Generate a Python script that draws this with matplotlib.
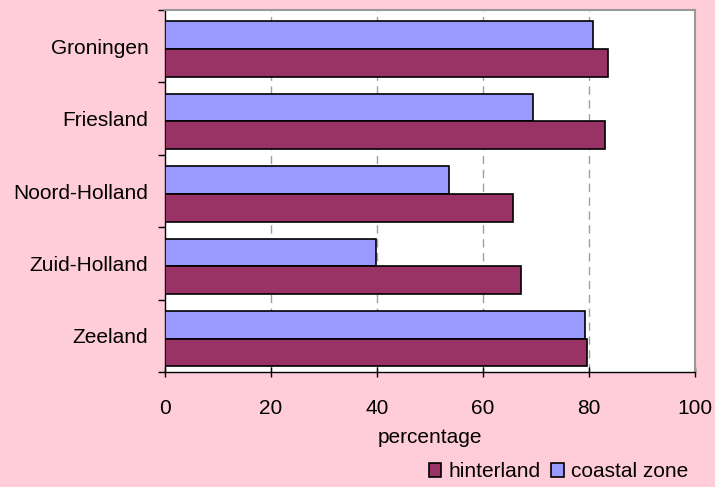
import matplotlib
matplotlib.use("Agg")
import matplotlib.pyplot as plt
from matplotlib.patches import Patch
import numpy as np

provinces = ["Groningen", "Friesland", "Noord-Holland", "Zuid-Holland", "Zeeland"]
coastal_zone = [80.7, 69.4, 53.5, 39.8, 79.2]
hinterland = [83.5, 83.0, 65.6, 67.1, 79.6]
x_ticks = [0, 20, 40, 60, 80, 100]

bg = "#FFCCD9"
col_hint = "#993366"
col_coast = "#9999FF"
fs = 15

plt.rcParams["font.family"] = ["Liberation Sans", "DejaVu Sans"]

fig = plt.figure(figsize=(7.15, 4.87), dpi=100, facecolor=bg)
ax = fig.add_axes([0.2308, 0.2361, 0.972 - 0.2308, 0.9795 - 0.2361])
ax.set_facecolor("white")

y = np.arange(len(provinces))
h = 0.383
# bars within each category slot: coastal above, hinterland below
ax.barh(y - 0.5 + 0.157 + h / 2, coastal_zone, height=h, color=col_coast,
        edgecolor="black", linewidth=1.2, zorder=3)
ax.barh(y - 0.5 + 0.54 + h / 2, hinterland, height=h, color=col_hint,
        edgecolor="black", linewidth=1.2, zorder=3)

ax.set_ylim(len(provinces) - 0.5, -0.5)
ax.set_xlim(0, 100)
ax.set_xticks(x_ticks)
ax.set_xticklabels([str(v) for v in x_ticks])

ax.set_yticks(y)
ax.set_yticklabels(provinces)
ax.set_yticks(np.arange(len(provinces) + 1) - 0.5, minor=True)
ax.tick_params(axis="y", which="major", length=0, pad=12, labelsize=fs)
ax.tick_params(axis="y", which="minor", length=5, width=1, color="black")
ax.tick_params(axis="x", which="major", length=7, width=1, color="black",
               labelsize=fs, pad=16, direction="inout")

for v in x_ticks[1:-1]:
    ax.axvline(v, color="#A0A0A0", linestyle=(0, (6, 4)), linewidth=1, zorder=1)

for side in ("top", "right"):
    ax.spines[side].set_color("#999999")
    ax.spines[side].set_linewidth(1.5)
for side in ("left", "bottom"):
    ax.spines[side].set_color("black")
    ax.spines[side].set_linewidth(1)

ax.set_xlabel("percentage", fontsize=fs, labelpad=7)

handles = [Patch(facecolor=col_hint, edgecolor="black", linewidth=1.2, label="hinterland"),
           Patch(facecolor=col_coast, edgecolor="black", linewidth=1.2, label="coastal zone")]
fig.legend(handles=handles, loc="center right", bbox_to_anchor=(0.974, 0.031),
           ncol=2, frameon=False, fontsize=fs, handlelength=0.6, handleheight=0.6,
           handletextpad=0.35, columnspacing=0.5, borderaxespad=0)

fig.savefig("out.png", dpi=100, facecolor=bg)
